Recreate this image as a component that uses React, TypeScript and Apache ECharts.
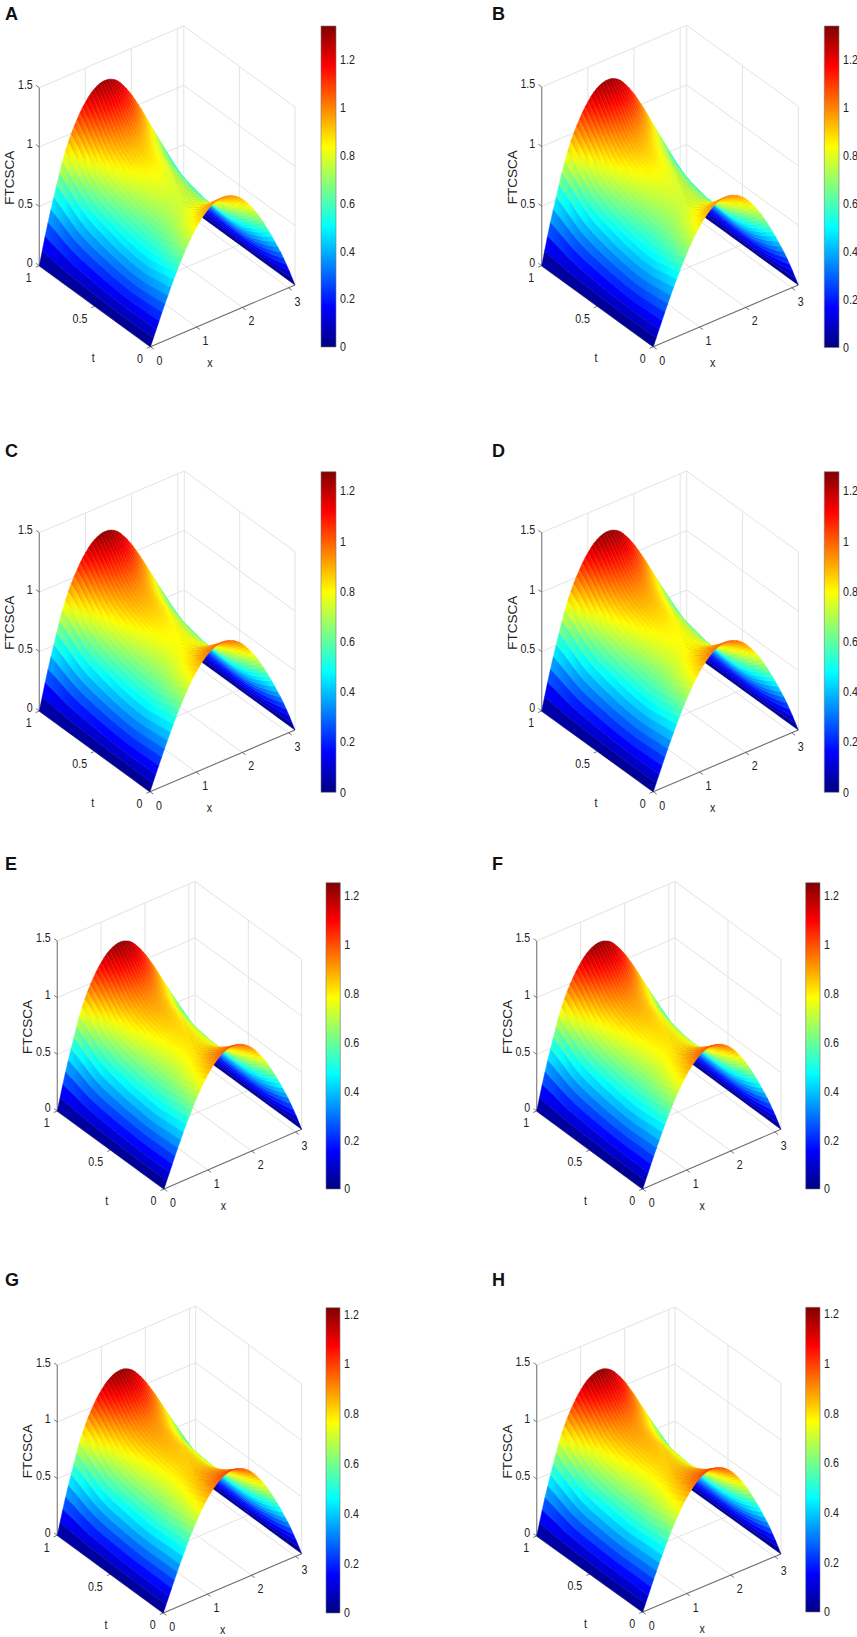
import { useEffect, useRef } from 'react'
import * as echarts from 'echarts'

const panelNames = ['A', 'B', 'C', 'D', 'E', 'F', 'G', 'H']

// t = 0, 0.05 ... 1
const tSteps = [0, 0.05, 0.1, 0.15, 0.2, 0.25, 0.3, 0.35, 0.4, 0.45, 0.5, 0.55, 0.6, 0.65, 0.7, 0.75, 0.8, 0.85, 0.9, 0.95, 1]

// surface height along the crest, one list per panel
const crestA = [1.0, 0.945, 0.89, 0.85, 0.81, 0.79, 0.78, 0.78, 0.79, 0.8, 0.815, 0.835, 0.86, 0.885, 0.915, 0.955, 1.01, 1.085, 1.17, 1.25, 1.325]
const crestB = [1.0, 0.945, 0.89, 0.85, 0.81, 0.79, 0.78, 0.78, 0.79, 0.8, 0.815, 0.835, 0.86, 0.885, 0.915, 0.955, 1.01, 1.085, 1.17, 1.25, 1.325]
const crestC = [1.0, 0.95, 0.905, 0.865, 0.83, 0.81, 0.8, 0.8, 0.805, 0.815, 0.83, 0.85, 0.87, 0.895, 0.92, 0.955, 1.005, 1.07, 1.145, 1.215, 1.275]
const crestD = [1.0, 0.95, 0.905, 0.865, 0.83, 0.81, 0.8, 0.8, 0.805, 0.815, 0.83, 0.85, 0.87, 0.895, 0.92, 0.955, 1.005, 1.07, 1.145, 1.215, 1.275]
const crestE = [1.0, 0.955, 0.915, 0.88, 0.85, 0.83, 0.82, 0.82, 0.825, 0.83, 0.84, 0.855, 0.87, 0.89, 0.91, 0.945, 0.99, 1.055, 1.125, 1.19, 1.25]
const crestF = [1.0, 0.955, 0.915, 0.88, 0.85, 0.83, 0.82, 0.82, 0.825, 0.83, 0.84, 0.855, 0.87, 0.89, 0.91, 0.945, 0.99, 1.055, 1.125, 1.19, 1.25]
const crestG = [1.0, 0.96, 0.925, 0.895, 0.87, 0.85, 0.835, 0.83, 0.83, 0.835, 0.845, 0.855, 0.865, 0.88, 0.9, 0.93, 0.98, 1.04, 1.105, 1.165, 1.22]
const crestH = [1.0, 0.96, 0.925, 0.895, 0.87, 0.85, 0.835, 0.83, 0.83, 0.835, 0.845, 0.855, 0.865, 0.88, 0.9, 0.93, 0.98, 1.04, 1.105, 1.165, 1.225]
const crests = [crestA, crestB, crestC, crestD, crestE, crestF, crestG, crestH]

// arch across x at t = 0 and at t = 1, 51 samples from 0 to pi
const startArch = [
  0, 0.063, 0.125, 0.187, 0.249, 0.309, 0.368, 0.426, 0.482, 0.536,
  0.588, 0.637, 0.685, 0.729, 0.771, 0.809, 0.844, 0.876, 0.905, 0.93,
  0.951, 0.969, 0.982, 0.992, 0.998, 1, 0.998, 0.992, 0.982, 0.97,
  0.953, 0.933, 0.908, 0.88, 0.847, 0.812, 0.775, 0.735, 0.69, 0.645,
  0.595, 0.545, 0.495, 0.44, 0.385, 0.33, 0.27, 0.205, 0.14, 0.07, 0,
]
const endArch = [
  0, 0.085, 0.17, 0.25, 0.325, 0.395, 0.465, 0.535, 0.6, 0.655,
  0.705, 0.75, 0.79, 0.825, 0.86, 0.89, 0.915, 0.94, 0.96, 0.975,
  0.987, 0.995, 1, 1, 0.998, 0.99, 0.98, 0.965, 0.945, 0.92,
  0.895, 0.865, 0.835, 0.8, 0.765, 0.73, 0.69, 0.65, 0.61, 0.57,
  0.53, 0.485, 0.44, 0.39, 0.34, 0.29, 0.235, 0.175, 0.12, 0.06, 0,
]
// how far the arch has moved from its start shape to its end shape at each t
const archShift = [0, 0.15, 0.3, 0.42, 0.52, 0.6, 0.67, 0.72, 0.77, 0.8, 0.83, 0.86, 0.88, 0.9, 0.92, 0.94, 0.95, 0.97, 0.98, 0.99, 1]

const colorMax = [1.34, 1.34, 1.277, 1.277, 1.255, 1.255, 1.226, 1.226]

const zTicks = [0, 0.5, 1, 1.5]
const tTicks = [0, 0.5, 1]
const xTicks = [0, 1, 2, 3]
const colorTicks = [0, 0.2, 0.4, 0.6, 0.8, 1, 1.2]

const X_END = Math.PI

// where the box corners of each panel sit on the page
const panels = [
  { front: [150.5, 346.7], right: [295, 285], left: [39.3, 265.7], zTop: 87.7, bar: [321, 26, 15, 321], letter: [5, 5] },
  { front: [653.3, 346.7], right: [798.3, 285], left: [541.7, 265.7], zTop: 87, bar: [824.3, 26, 14.7, 321.5], letter: [492, 5] },
  { front: [150, 791.7], right: [295, 730], left: [39.3, 711], zTop: 532.7, bar: [321, 471.7, 15, 320.6], letter: [5, 442] },
  { front: [653.3, 791.7], right: [798.3, 730], left: [541.7, 711], zTop: 532.7, bar: [824.3, 471.7, 14.7, 320.6], letter: [492, 442] },
  { front: [164, 1189], right: [301.7, 1129.3], left: [57.3, 1111], zTop: 941, bar: [326, 882.7, 14.3, 306.3], letter: [5, 855] },
  { front: [642.7, 1189], right: [781, 1129.3], left: [536.7, 1111], zTop: 941, bar: [805.7, 882.7, 14.3, 306.3], letter: [492, 855] },
  { front: [163.3, 1613], right: [301.7, 1553.7], left: [57.3, 1535.3], zTop: 1365.3, bar: [326, 1307.7, 14, 305.3], letter: [5, 1271] },
  { front: [642.7, 1612], right: [781, 1554], left: [536.7, 1536], zTop: 1365, bar: [805.7, 1307.3, 14.3, 304.7], letter: [492, 1271] },
]

const FONT = '"Liberation Sans", Arial, sans-serif'
// the figure's digits are squeezed sideways
const TICK_SQUEEZE = 0.82

function clamp01(v: number) {
  return Math.max(0, Math.min(1, v))
}

// matlab jet
function jet(v: number) {
  const r = clamp01(1.5 - Math.abs(4 * v - 3))
  const g = clamp01(1.5 - Math.abs(4 * v - 2))
  const b = clamp01(1.5 - Math.abs(4 * v - 1))
  return `rgb(${Math.round(r * 255)},${Math.round(g * 255)},${Math.round(b * 255)})`
}

const jetStops = [
  { offset: 0, color: '#000080' },
  { offset: 0.125, color: '#0000ff' },
  { offset: 0.375, color: '#00ffff' },
  { offset: 0.625, color: '#ffff00' },
  { offset: 0.875, color: '#ff0000' },
  { offset: 1, color: '#800000' },
]

function makeProjector(p: (typeof panels)[number]) {
  const zScale = (p.left[1] - p.zTop) / 1.5
  return (x: number, t: number, z: number) => [
    p.front[0] + ((p.right[0] - p.front[0]) * x) / X_END + (p.left[0] - p.front[0]) * t,
    p.front[1] + ((p.right[1] - p.front[1]) * x) / X_END + (p.left[1] - p.front[1]) * t - zScale * z,
  ]
}

function tickText(x: number, y: number, text: string, align: string) {
  return {
    type: 'text',
    x,
    y,
    scaleX: TICK_SQUEEZE,
    style: { text, x: 0, y: 0, fill: '#222', fontSize: 13, fontFamily: FONT, align, verticalAlign: 'middle' },
  }
}

function buildOption() {
  const grid: any[] = []
  const xAxis: any[] = []
  const yAxis: any[] = []
  const series: any[] = []
  const title: any[] = []

  panels.forEach((p, idx) => {
    const project = makeProjector(p)
    const crest = crests[idx]
    const cMax = colorMax[idx]
    const gridLeft = p.left[0]
    const gridRight = p.right[0]
    const gridTop = p.zTop - (p.front[1] - p.right[1])
    const gridBottom = p.front[1]

    // height of the surface at arch sample i and time step k
    const height = (i: number, k: number) =>
      crest[k] * ((1 - archShift[k]) * startArch[i] + archShift[k] * endArch[i])

    title.push({
      text: panelNames[idx],
      left: p.letter[0],
      top: p.letter[1],
      padding: 0,
      textStyle: { fontSize: 18, fontWeight: 'bold', color: '#111', fontFamily: FONT },
    })

    // axes in page pixels, so the projected box lands where it does in the figure
    grid.push({ left: gridLeft, top: gridTop, width: gridRight - gridLeft, height: gridBottom - gridTop })
    xAxis.push({ gridIndex: idx * 2, type: 'value', show: false, min: gridLeft, max: gridRight })
    yAxis.push({ gridIndex: idx * 2, type: 'value', show: false, min: gridTop, max: gridBottom, inverse: true })

    // colour bar
    grid.push({
      left: p.bar[0],
      top: p.bar[1],
      width: p.bar[2],
      height: p.bar[3],
      show: true,
      borderColor: '#777',
      borderWidth: 0.6,
      z: 5,
    })
    xAxis.push({ gridIndex: idx * 2 + 1, type: 'category', show: false, data: ['bar'] })
    yAxis.push({
      gridIndex: idx * 2 + 1,
      type: 'value',
      position: 'right',
      min: 0,
      max: cMax,
      splitLine: { show: false },
      axisLine: { show: false },
      axisTick: { inside: true, length: 2, lineStyle: { color: '#333', width: 0.8 }, customValues: colorTicks },
      axisLabel: { show: false },
    })

    const line = (api: any, a: number[], b: number[], stroke: string, lineWidth: number) => {
      const [x1, y1] = api.coord(a)
      const [x2, y2] = api.coord(b)
      return { type: 'line', shape: { x1, y1, x2, y2 }, style: { stroke, lineWidth } }
    }
    const label = (api: any, at: number[], dx: number, dy: number, text: string, align: string) => {
      const [x, y] = api.coord(at)
      return tickText(x + dx, y + dy, text, align)
    }

    series.push({
      type: 'custom',
      xAxisIndex: idx * 2,
      yAxisIndex: idx * 2,
      silent: true,
      clip: false,
      z: 1,
      data: [[0]],
      renderItem: (_: any, api: any) => {
        const wall = '#e3e3e3'
        const children: any[] = []
        const xEnd = X_END
        zTicks.forEach((z) => {
          if (z > 0) {
            children.push(line(api, project(0, 1, z), project(xEnd, 1, z), wall, 1))
            children.push(line(api, project(xEnd, 1, z), project(xEnd, 0, z), wall, 1))
          }
        })
        xTicks.forEach((x) => {
          if (x > 0) {
            children.push(line(api, project(x, 1, 0), project(x, 1, 1.5), wall, 1))
            children.push(line(api, project(x, 0, 0), project(x, 1, 0), wall, 1))
          }
        })
        children.push(line(api, project(xEnd, 1, 0), project(xEnd, 1, 1.5), wall, 1))
        children.push(line(api, project(xEnd, 0, 0), project(xEnd, 0, 1.5), wall, 1))
        children.push(line(api, project(xEnd, 1, 0), project(xEnd, 0, 0), wall, 1))
        children.push(line(api, project(0, 1, 0), project(xEnd, 1, 0), wall, 1))
        tTicks.forEach((t) => {
          if (t === 0.5) {
            children.push(line(api, project(0, t, 0), project(xEnd, t, 0), wall, 1))
            children.push(line(api, project(xEnd, t, 0), project(xEnd, t, 1.5), wall, 1))
          }
        })

        // the three drawn axes
        children.push(line(api, project(0, 1, 0), project(0, 1, 1.5), '#8c8c8c', 1.3))
        children.push(line(api, project(0, 0, 0), project(xEnd, 0, 0), '#6e6e6e', 1.1))
        children.push(line(api, project(0, 0, 0), project(0, 1, 0), '#6e6e6e', 1.1))

        zTicks.forEach((z) => {
          children.push(line(api, project(0, 1, z), project(0, 1.03, z), '#555', 0.8))
          children.push(label(api, project(0, 1, z), -6.5, -3, String(z), 'right'))
        })
        tTicks.forEach((t) => {
          children.push(line(api, project(0, t, 0), project(-0.08, t, 0), '#555', 0.8))
          children.push(label(api, project(0, t, 0), -7.5, 12, String(t), 'right'))
        })
        xTicks.forEach((x) => {
          children.push(line(api, project(x, 0, 0), project(x, -0.03, 0), '#555', 0.8))
          children.push(label(api, project(x, 0, 0), 9, 13.7, String(x), 'center'))
        })
        children.push(label(api, project(0, 0, 0), 59.4, 16.3, 'x', 'center'))
        children.push(label(api, project(0, 0, 0), -57.3, 11.3, 't', 'center'))

        const [ax, ay] = api.coord(project(0, 1, 0.75))
        children.push({
          type: 'text',
          x: ax - 29.6,
          y: ay + 1,
          rotation: Math.PI / 2,
          style: {
            text: 'FTCSCA',
            x: 0,
            y: 0,
            fill: '#222',
            fontSize: 13.5,
            fontFamily: FONT,
            align: 'center',
            verticalAlign: 'middle',
          },
        })
        return { type: 'group', children }
      },
    })

    // one strip per x step, far side first; colour runs along t as a horizontal gradient
    const stripOrder = startArch.slice(1).map((_, i) => [startArch.length - 2 - i])
    const stepX = X_END / (startArch.length - 1)
    series.push({
      type: 'custom',
      xAxisIndex: idx * 2,
      yAxisIndex: idx * 2,
      silent: true,
      clip: false,
      z: 2,
      data: stripOrder,
      renderItem: (_: any, api: any) => {
        const i = api.value(0)
        const x0 = i * stepX
        const x1 = (i + 1) * stepX
        const points: number[][] = []
        tSteps.forEach((t, k) => points.push(api.coord(project(x0, t, height(i, k)))))
        for (let k = tSteps.length - 1; k >= 0; k--) {
          points.push(api.coord(project(x1, tSteps[k], height(i + 1, k))))
        }
        const start = api.coord(project(x0, 0, 0))[0]
        const end = api.coord(project(x0, 1, 0))[0]
        const gradient = new echarts.graphic.LinearGradient(
          start,
          0,
          end,
          0,
          tSteps.map((t, k) => ({ offset: t, color: jet((height(i, k) + height(i + 1, k)) / 2 / cMax) })),
          true,
        )
        return {
          type: 'polygon',
          shape: { points },
          style: { fill: gradient, stroke: gradient, lineWidth: 0.5 },
        }
      },
    })

    series.push({
      type: 'bar',
      xAxisIndex: idx * 2 + 1,
      yAxisIndex: idx * 2 + 1,
      silent: true,
      barWidth: '100%',
      z: 2,
      data: [cMax],
      itemStyle: { color: new echarts.graphic.LinearGradient(0, 1, 0, 0, jetStops) },
    })

    series.push({
      type: 'custom',
      xAxisIndex: idx * 2 + 1,
      yAxisIndex: idx * 2 + 1,
      silent: true,
      clip: false,
      z: 3,
      data: colorTicks.map((v) => [0, v]),
      renderItem: (_: any, api: any) => {
        const v = api.value(1)
        const y = api.coord([0, v])[1]
        return tickText(p.bar[0] + p.bar[2] + 4, y, String(v), 'left')
      },
    })
  })

  return { animation: false, backgroundColor: '#fff', title, grid, xAxis, yAxis, series }
}

export default function App() {
  const chartRef = useRef<HTMLDivElement>(null)

  useEffect(() => {
    if (!chartRef.current) return
    const chart = echarts.init(chartRef.current, null, { renderer: 'svg' })
    chart.setOption(buildOption())
    return () => chart.dispose()
  }, [])

  return <div ref={chartRef} style={{ position: 'absolute', left: 0, top: 0, width: 857, height: 1637 }} />
}
